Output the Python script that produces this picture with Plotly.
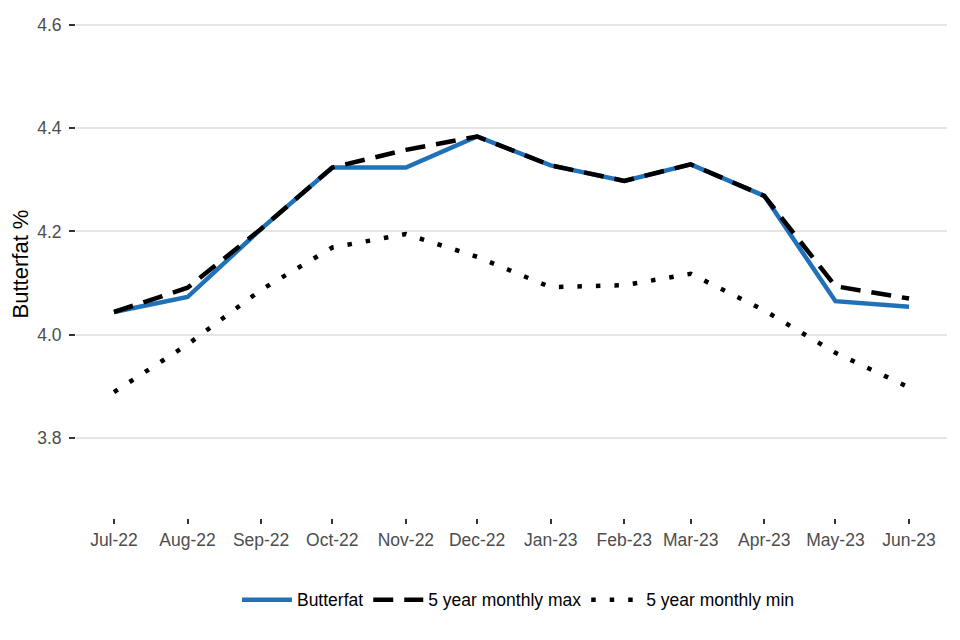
import plotly.graph_objects as go

months = ["2022-07-01", "2022-08-01", "2022-09-01", "2022-10-01", "2022-11-01", "2022-12-01",
          "2023-01-01", "2023-02-01", "2023-03-01", "2023-04-01", "2023-05-01", "2023-06-01"]
butterfat = [4.044, 4.073, 4.205, 4.324, 4.324, 4.384, 4.328, 4.298, 4.330, 4.269, 4.065, 4.054]
max5 = [4.044, 4.091, 4.205, 4.324, 4.358, 4.384, 4.328, 4.298, 4.330, 4.269, 4.094, 4.070]
min5 = [3.889, 3.981, 4.087, 4.169, 4.195, 4.151, 4.092, 4.096, 4.118, 4.047, 3.965, 3.898]
y_ticks = [3.8, 4.0, 4.2, 4.4, 4.6]

fig = go.Figure()
fig.add_trace(go.Scatter(x=months, y=butterfat, mode="lines", name="Butterfat",
                         line=dict(color="#2171b8", width=4.5)))
fig.add_trace(go.Scatter(x=months, y=max5, mode="lines", name="5 year monthly max",
                         line=dict(color="black", width=4.5, dash="20px,11px")))
fig.add_trace(go.Scatter(x=months, y=min5, mode="lines", name="5 year monthly min",
                         line=dict(color="black", width=4.5, dash="4.5px,14px")))

fig.update_layout(
    width=960, height=640,
    margin=dict(l=68, r=21, t=2, b=130),
    plot_bgcolor="white", paper_bgcolor="white",
    font=dict(family="Liberation Sans, Arial, sans-serif", size=17.5, color="black"),
    legend=dict(orientation="h", xanchor="center", x=0.508, yanchor="middle", y=-0.161,
                font=dict(size=17.5, color="black"), itemwidth=50, traceorder="normal"),
    showlegend=True,
)
fig.update_xaxes(
    type="date", range=["2022-06-15", "2023-06-17"],
    tickvals=months, tickformat="%b-%y", automargin=False,
    showgrid=False, zeroline=False, showline=False,
    ticks="outside", ticklen=5, tickwidth=2, tickcolor="#333333",
    tickfont=dict(size=17.5, color="#4d4d4d"), ticklabelstandoff=1,
)
fig.update_yaxes(
    range=[3.645, 4.629], tickvals=y_ticks, tickformat=".1f", automargin=False,
    showgrid=True, gridcolor="#e5e5e5", gridwidth=1.6,
    zeroline=False, showline=False,
    ticks="outside", ticklen=6, tickwidth=2, tickcolor="#333333",
    tickfont=dict(size=17.5, color="#4d4d4d"), ticklabelstandoff=4,
    title=dict(text="Butterfat %", font=dict(size=22, color="black"), standoff=10),
)

fig.write_html("out.html")
